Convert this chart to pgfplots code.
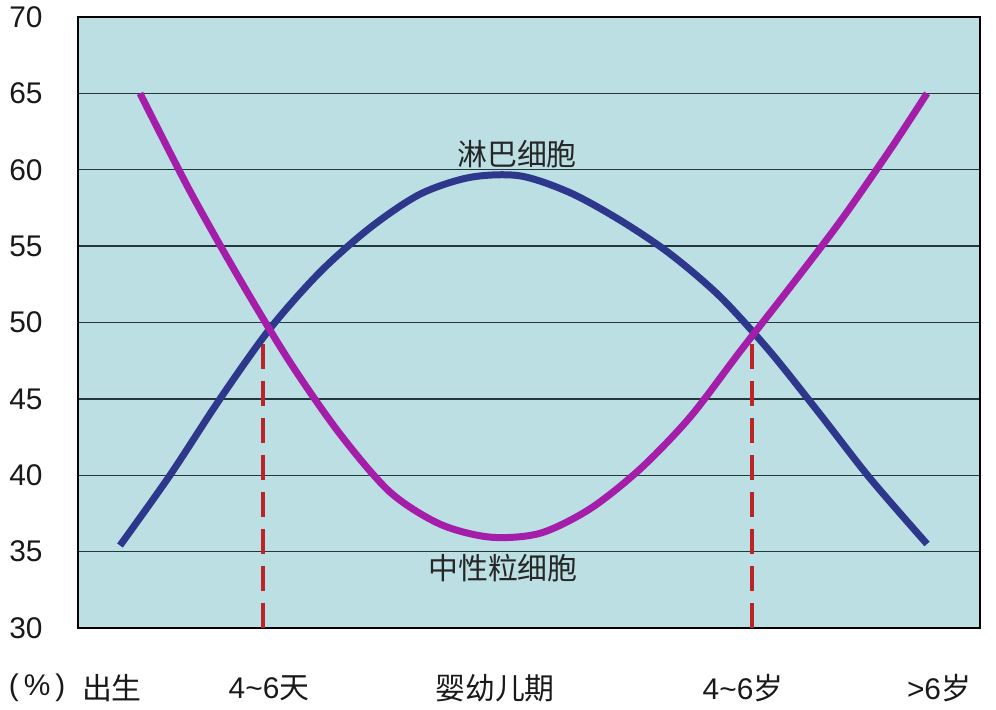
\documentclass[border=0pt]{standalone}
\usepackage{pgfplots}
\pgfplotsset{compat=1.18}
\usepackage{fontspec}
\setmainfont{Liberation Sans}
\newfontfamily\cjk{Noto Sans CJK SC}
\definecolor{bg}{RGB}{187,223,227}
\definecolor{lblue}{RGB}{45,56,140}
\definecolor{nmag}{RGB}{165,30,170}
\definecolor{dred}{RGB}{190,35,40}
\definecolor{gridc}{RGB}{35,55,60}
\begin{document}
\begin{tikzpicture}
\path[use as bounding box] (0,0) rectangle (996bp,710bp);
\begin{axis}[
  at={(78bp,82bp)}, anchor=south west,
  scale only axis, width=902bp, height=611bp,
  xmin=78, xmax=980, ymin=30, ymax=70,
  ytick={30,35,...,70},
  xtick={112,269,495,743,939},
  xticklabels={{\cjk 出生}, {4\textasciitilde 6\cjk 天}, {\cjk 婴幼儿期}, {4\textasciitilde 6\cjk 岁}, {>6\cjk 岁}},
  /pgf/number format/assume math mode=true,
  tick label style={font=\fontsize{30}{36}\selectfont, text=black!90},
  xticklabel style={anchor=center, yshift=-60bp},
  yticklabel style={anchor=center, xshift=-52bp},
  major tick length=0pt,
  axis line style={line width=2.5bp, black},
  axis background/.style={fill=bg},
  ymajorgrids,
  grid style={line width=1.3bp, gridc},
  clip=false,
]
% dashed markers
\addplot[dred, line width=3.5bp, dash pattern=on 25bp off 12bp] coordinates {(263,48.6) (263,30)};
\addplot[dred, line width=3.5bp, dash pattern=on 25bp off 12bp] coordinates {(752,48.6) (752,30)};
% lymphocytes
\addplot[lblue, line width=7bp, smooth] coordinates {
(120,35.4) (170,40) (220,45) (270,49.6) (320,53.3) (370,56.2) (420,58.4) (470,59.5)
(520,59.6) (570,58.5) (620,56.7) (670,54.5) (720,51.7) (770,48.1) (820,44.0) (870,39.8) (927,35.5)};
% neutrophils
\addplot[nmag, line width=7bp, smooth] coordinates {
(140,65) (190,58.6) (240,52.8) (290,47.4) (340,42.7) (390,38.9) (440,36.8) (490,35.95)
(540,36.2) (590,37.8) (640,40.4) (690,43.8) (740,48.1) (790,52.3) (840,56.6) (890,61.3) (927,65)};
\node[font=\fontsize{30}{36}\selectfont\cjk, text=black!85] at (axis cs:517,61.0) {淋巴细胞};
\node[font=\fontsize{30}{36}\selectfont\cjk, text=black!85] at (axis cs:503,33.9) {中性粒细胞};
\node[font=\fontsize{30}{36}\selectfont, text=black!90, anchor=west, inner sep=0pt] at ([yshift=-60bp]axis cs:78,30) {\hspace*{-83bp}(\hspace{5bp}\%\hspace{5bp})};
\end{axis}
\end{tikzpicture}
\end{document}
